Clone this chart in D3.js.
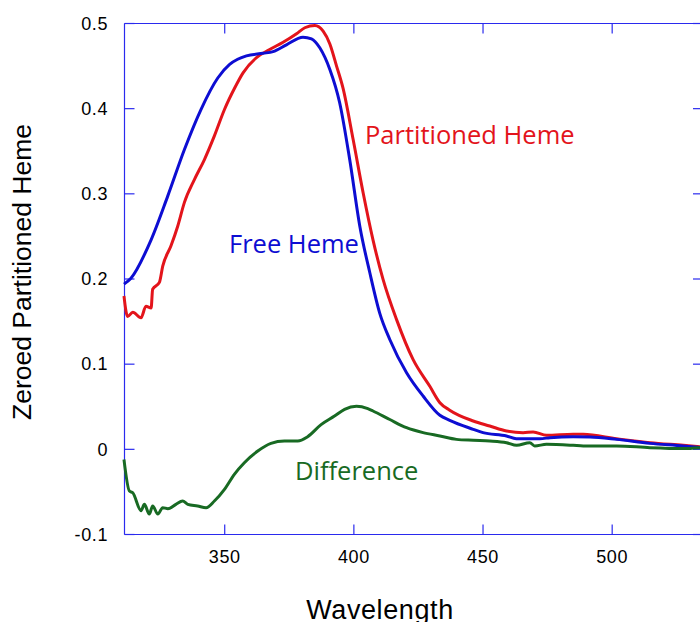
<!DOCTYPE html>
<html>
<head>
<meta charset="utf-8">
<script src="https://cdn.jsdelivr.net/npm/d3@7"></script>
<style>
  body { margin: 0; background: #fff; }
  svg { display: block; }
</style>
</head>
<body>
<div id="chart"></div>
<script>
// Free heme spectrum
const freeWl = [311, 313.7, 321.5, 327.9, 334.4, 340.8, 347.3, 351.9, 355, 358.4, 364.8,
  368.7, 373.9, 380.3, 383.6, 386.8, 390.7, 394.5, 398.4, 402.3, 406.2, 410, 413.9,
  420.4, 426.8, 433.3, 437.1, 446.2, 450, 459.1, 462.9, 472, 475.9, 484.9, 491.4,
  501.7, 514.6, 527.5, 534];
const freeVal = [0.194, 0.201, 0.246, 0.297, 0.352, 0.399, 0.436, 0.452, 0.458, 0.462, 0.465,
  0.467, 0.475, 0.484, 0.482, 0.4715, 0.446, 0.407, 0.34, 0.262, 0.207, 0.16, 0.129,
  0.09, 0.0626, 0.04, 0.034, 0.0235, 0.0196, 0.0157, 0.0125, 0.0125, 0.0137, 0.0149, 0.0145,
  0.0117, 0.007, 0.0039, 0.002];

// Partitioned heme spectrum
const partWl = [311, 312.4, 314.4, 317.6, 319.5, 321.5, 322.1, 324.7, 326, 329.2, 331.8,
  334.4, 338.3, 342.1, 346, 349.9, 353.9, 357.1, 362.3, 367.4, 372.6, 377.8, 381,
  384.9, 388.1, 390.7, 393.3, 395.8, 399.7, 403.6, 407.4, 411.3, 416.5, 422.9, 429.4,
  433.3, 437.1, 446.2, 452.6, 459.1, 465.5, 469.4, 474.6, 484.9, 488.8, 501.7, 514.6,
  527.5, 534];
const partVal = [0.18, 0.156, 0.161, 0.1545, 0.168, 0.166, 0.188, 0.196, 0.215, 0.239, 0.262,
  0.29, 0.317, 0.34, 0.368, 0.399, 0.4245, 0.442, 0.46, 0.4695, 0.478, 0.488, 0.495,
  0.4977, 0.491, 0.476, 0.45, 0.424, 0.364, 0.301, 0.246, 0.1995, 0.1526, 0.1056, 0.074,
  0.0548, 0.046, 0.0333, 0.0274, 0.0215, 0.0196, 0.0203, 0.0164, 0.0176, 0.0176, 0.0125, 0.0078,
  0.0047, 0.003];

// Difference spectrum
const diffWl = [311, 313.1, 314.4, 317.6, 318.9, 320.8, 322.1, 324.1, 326, 328, 331.1,
  333.7, 335.7, 339.5, 342.8, 346, 349.9, 353.8, 357.6, 362.8, 367.9, 373.1, 378.3,
  382.1, 387.3, 392.5, 396.4, 401, 405.4, 407.4, 413.9, 420.4, 426.8, 433.3, 439.7,
  446.2, 452.6, 459.1, 463, 468.1, 470, 474.6, 484.9, 488.8, 501.7, 514.6, 527.5, 534];
const diffVal = [-0.012, -0.049, -0.051, -0.072, -0.0646, -0.076, -0.0665, -0.076, -0.0685, -0.0697, -0.0646,
  -0.0607, -0.0646, -0.0665, -0.0685, -0.0607, -0.047, -0.029, -0.0157, -0.002, 0.007, 0.0098, 0.0098,
  0.0149, 0.029, 0.039, 0.047, 0.0505, 0.0477, 0.045, 0.035, 0.0254, 0.0196, 0.0157, 0.0117,
  0.0106, 0.0098, 0.0078, 0.0047, 0.0078, 0.004, 0.0059, 0.0047, 0.004, 0.004, 0.002, 0.001, 0.002];

const xTicks = [350, 400, 450, 500];
const yTicks = [-0.1, 0, 0.1, 0.2, 0.3, 0.4, 0.5];

const series = [
  { name: 'Partitioned Heme', wl: partWl, val: partVal, color: '#e3141b', lx: 365, ly: 144 },
  { name: 'Free Heme', wl: freeWl, val: freeVal, color: '#0d0dd2', lx: 229, ly: 253 },
  { name: 'Difference', wl: diffWl, val: diffVal, color: '#186a23', lx: 295, ly: 480 },
];

const width = 700;
const height = 622;
const axisColor = '#2a2aee';

const svg = d3.select('#chart')
  .append('svg')
  .attr('width', width)
  .attr('height', height);

const x = d3.scaleLinear()
  .domain([311.2, 534])
  .range([124.5, 700]);

const y = d3.scaleLinear()
  .domain([-0.1, 0.5])
  .range([534.5, 23.5]);

// frame
const [x0, x1] = x.range();
const [yb, yt] = y.range();
svg.append('g')
  .attr('stroke', axisColor)
  .attr('stroke-width', 1.2)
  .selectAll('line')
  .data([[x0, yt, x1 + 5, yt], [x0, yb, x1 + 5, yb], [x0, yt, x0, yb], [x1 + 1, yt, x1 + 1, yb]])
  .join('line')
  .attr('x1', (d) => d[0])
  .attr('y1', (d) => d[1])
  .attr('x2', (d) => d[2])
  .attr('y2', (d) => d[3]);

// inward ticks
const tickLen = 10;
const ticks = svg.append('g')
  .attr('stroke', axisColor)
  .attr('stroke-width', 1.2);

ticks.selectAll('.xb')
  .data(xTicks)
  .join('line')
  .attr('x1', (d) => x(d))
  .attr('x2', (d) => x(d))
  .attr('y1', yb)
  .attr('y2', yb - tickLen);

ticks.selectAll('.xt')
  .data(xTicks)
  .join('line')
  .attr('x1', (d) => x(d))
  .attr('x2', (d) => x(d))
  .attr('y1', yt)
  .attr('y2', yt + tickLen);

ticks.selectAll('.yl')
  .data(yTicks)
  .join('line')
  .attr('x1', x0)
  .attr('x2', x0 + tickLen)
  .attr('y1', (d) => y(d))
  .attr('y2', (d) => y(d));

ticks.selectAll('.yr')
  .data(yTicks)
  .join('line')
  .attr('x1', x1 - 7)
  .attr('x2', x1 + 1)
  .attr('y1', (d) => y(d))
  .attr('y2', (d) => y(d));

// tick labels
const fmt = (d) => (d === 0 ? '0' : d3.format('.1f')(d).replace('−', '-'));

svg.append('g')
  .selectAll('text')
  .data(yTicks)
  .join('text')
  .attr('x', 108)
  .attr('y', (d) => y(d))
  .attr('dy', '0.35em')
  .attr('text-anchor', 'end')
  .style('font-family', 'Liberation Sans, Arial, sans-serif')
  .style('font-size', '18px')
  .style('letter-spacing', '0.6px')
  .text(fmt);

svg.append('g')
  .selectAll('text')
  .data(xTicks)
  .join('text')
  .attr('x', (d) => x(d))
  .attr('y', 563)
  .attr('text-anchor', 'middle')
  .style('font-family', 'Liberation Sans, Arial, sans-serif')
  .style('font-size', '18px')
  .style('letter-spacing', '0.6px')
  .text((d) => d);

// axis titles
svg.append('text')
  .attr('x', 380)
  .attr('y', 619)
  .attr('text-anchor', 'middle')
  .style('font-family', 'Liberation Sans, Arial, sans-serif')
  .style('font-size', '27px')
  .style('letter-spacing', '0.6px')
  .text('Wavelength');

svg.append('text')
  .attr('transform', 'translate(31, 272) rotate(-90)')
  .attr('text-anchor', 'middle')
  .style('font-family', 'Liberation Sans, Arial, sans-serif')
  .style('font-size', '26.5px')
  .text('Zeroed Partitioned Heme');

// curves
const line = d3.line()
  .curve(d3.curveMonotoneX)
  .x((d) => x(d[0]))
  .y((d) => y(d[1]));

svg.append('g')
  .selectAll('path')
  .data(series)
  .join('path')
  .attr('d', (s) => line(d3.zip(s.wl, s.val)))
  .attr('fill', 'none')
  .attr('stroke', (s) => s.color)
  .attr('stroke-width', 3)
  .attr('stroke-linejoin', 'round');

svg.append('g')
  .selectAll('text')
  .data(series)
  .join('text')
  .attr('x', (s) => s.lx)
  .attr('y', (s) => s.ly)
  .attr('fill', (s) => s.color)
  .style('font-family', 'Open Sans, sans-serif')
  .style('font-size', '25.5px')
  .text((s) => s.name);
</script>
</body>
</html>
